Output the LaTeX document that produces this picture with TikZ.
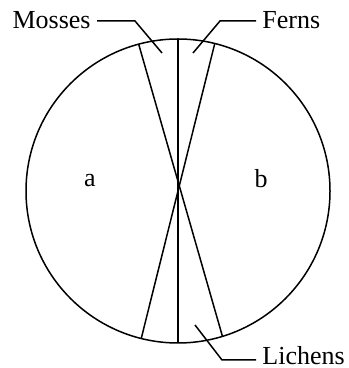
\documentclass[tikz,border=0pt]{standalone}
\usepackage{fontspec}
\setmainfont{Liberation Serif}
\usepackage{tikz}
\usetikzlibrary{calc,positioning}

\begin{document}
\begin{tikzpicture}[x=0.5pt,y=0.5pt,
    lbl/.style={inner sep=3pt,font=\fontsize{13}{15}\selectfont},
    leader/.style={line width=0.75pt}]
        \useasboundingbox (0,0) rectangle (348,368);
        % Draw the circle
        \node[draw,line width=0.75pt,circle,minimum size=152pt,inner sep=0pt,outer sep=0pt] (disc) at (178,177) {};
        % chords
        \draw[line width=0.75pt] (disc.north) -- (disc.south);
        \draw[line width=0.75pt] (disc.105) -- (disc.-73.4);
        \draw[line width=0.75pt] (disc.76.1) -- (disc.-104.2);
        % regions
        \node[lbl,anchor=base] (a) at (90,181) {a};
        \node[lbl,anchor=base] (b) at (261,180) {b};
        % labels
        \node[lbl,anchor=east] (mosses) at (97,348) {Mosses};
        \node[lbl,anchor=west] (ferns) at (256,348) {Ferns};
        \node[lbl,anchor=west] (lichens) at (256,12) {Lichens};
        \coordinate (mbend) at (135,347);
        \coordinate (mtip) at (162,315);
        \coordinate (fbend) at (220,347);
        \coordinate (ftip) at (193,315);
        \coordinate (lbend) at (222,8);
        \coordinate (ltip) at (195,43);
        \draw[leader] (mbend -| mosses.east) -- (mbend) -- (mtip);
        \draw[leader] (fbend -| ferns.west) -- (fbend) -- (ftip);
        \draw[leader] (lbend -| lichens.west) -- (lbend) -- (ltip);
\end{tikzpicture}
\end{document}
